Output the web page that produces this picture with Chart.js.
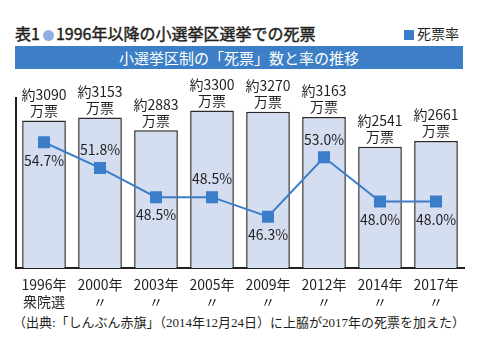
<!DOCTYPE html>
<html lang="ja">
<head>
<meta charset="utf-8">
<script src="https://cdn.jsdelivr.net/npm/chart.js@4.4.0/dist/chart.umd.min.js"></script>
<style>
  body {
    margin: 0;
    width: 480px;
    height: 353px;
    background: #fff;
    position: relative;
    overflow: hidden;
    font-family: "Noto Sans CJK JP", sans-serif;
    color: #231f20;
  }
  .title {
    position: absolute;
    left: 15px;
    top: 22px;
    font-size: 16px;
    font-weight: 400;
    line-height: 22px;
    white-space: nowrap;
    -webkit-text-stroke: 0.45px #231f20;
  }
  .dot {
    display: inline-block;
    width: 11px;
    height: 11px;
    border-radius: 50%;
    background: #8fb0e0;
    margin: 0 2px 0 3px;
    vertical-align: -1px;
    -webkit-text-stroke: 0;
  }
  .legend {
    position: absolute;
    left: 404px;
    top: 23px;
    font-size: 14px;
    line-height: 20px;
    white-space: nowrap;
  }
  .legend i {
    display: inline-block;
    width: 10px;
    height: 10px;
    background: #3b7dc8;
    margin-right: 3px;
    vertical-align: -1px;
  }
  .banner {
    position: absolute;
    left: 15px;
    top: 46px;
    width: 448px;
    height: 23px;
    background: #3d7fc6;
    color: #fff;
    font-size: 15px;
    line-height: 23px;
    text-align: center;
  }
  #wrap {
    position: absolute;
    left: 0;
    top: 70px;
  }
  .note {
    position: absolute;
    left: 13px;
    top: 314px;
    font-family: "Liberation Serif", "Noto Sans CJK JP", serif;
    font-size: 13px;
    line-height: 18px;
    white-space: nowrap;
  }
</style>
</head>
<body>
<div class="title">表1<span class="dot"></span>1996年以降の小選挙区選挙での死票</div>
<div class="legend"><i></i>死票率</div>
<div class="banner">小選挙区制の「死票」数と率の推移</div>
<div id="wrap"><canvas id="chart" width="480" height="243"></canvas></div>
<div class="note">（出典:「しんぶん赤旗」（2014年12月24日）に上脇が2017年の死票を加えた）</div>

<script>
// 選挙ごとの死票数（万票）と死票率（%）
const elections = [
    ["1996年", "衆院選"],
    ["2000年", "〃"],
    ["2003年", "〃"],
    ["2005年", "〃"],
    ["2009年", "〃"],
    ["2012年", "〃"],
    ["2014年", "〃"],
    ["2017年", "〃"]
];
const deadVotes = [3090, 3153, 2883, 3300, 3270, 3163, 2541, 2661];
const deadRate = [54.7, 51.8, 48.5, 48.5, 46.3, 53.0, 48.0, 48.0];

const textColor = "#231f20";
const lineBlue = "#3b7dc8";
const labelFont = "14px 'Noto Sans CJK JP'";

// 率ラベルを点の上に置くか下に置くか
const rateLabelAbove = [false, true, false, true, false, true, false, false];

const valueLabels = {
    id: "valueLabels",
    afterDatasetsDraw(chart) {
        const ctx = chart.ctx;
        ctx.save();
        ctx.font = labelFont;
        ctx.fillStyle = textColor;
        ctx.textAlign = "center";
        ctx.textBaseline = "middle";

        chart.getDatasetMeta(0).data.forEach((bar, i) => {
            ctx.fillText("約" + deadVotes[i], bar.x, bar.y - 26);
            ctx.fillText("万票", bar.x, bar.y - 10);
        });

        chart.getDatasetMeta(1).data.forEach((pt, i) => {
            const dy = rateLabelAbove[i] ? -18 : 18;
            ctx.fillText(deadRate[i].toFixed(1) + "%", pt.x, pt.y + dy);
        });
        ctx.restore();
    }
};

new Chart("chart", {
    data: {
        labels: elections,
        datasets: [{
            type: "bar",
            label: "死票数",
            data: deadVotes,
            backgroundColor: "#d5ddf0",
            borderColor: "#2b2b2b",
            borderWidth: 1.5,
            barPercentage: 0.78,
            categoryPercentage: 1,
            yAxisID: "y",
            order: 2
        }, {
            type: "line",
            label: "死票率",
            data: deadRate,
            borderColor: lineBlue,
            backgroundColor: lineBlue,
            borderWidth: 2,
            pointStyle: "rect",
            pointRadius: 8.5,
            pointBorderWidth: 0,
            yAxisID: "y2",
            order: 1
        }]
    },
    options: {
        responsive: false,
        devicePixelRatio: 1,
        animation: false,
        layout: {
            padding: { left: 16, right: 16, top: 28, bottom: 0 }
        },
        plugins: {
            legend: { display: false },
            tooltip: { enabled: false }
        },
        scales: {
            x: {
                grid: { display: false, drawTicks: false },
                border: { color: textColor, width: 2 },
                ticks: {
                    color: textColor,
                    font: { family: "Noto Sans CJK JP", size: 14, lineHeight: 1.2 },
                    padding: 8,
                    maxRotation: 0,
                    autoSkip: false
                },
                afterFit: (scale) => { scale.height = 45; }
            },
            y: {
                min: 0,
                max: 3560,
                grid: { display: false, drawTicks: false },
                border: { color: textColor, width: 2 },
                ticks: { display: false },
                afterFit: (scale) => { scale.width = 0; }
            },
            y2: {
                display: false,
                min: 40.5,
                max: 59.7
            }
        }
    },
    plugins: [valueLabels]
});
</script>
</body>
</html>
